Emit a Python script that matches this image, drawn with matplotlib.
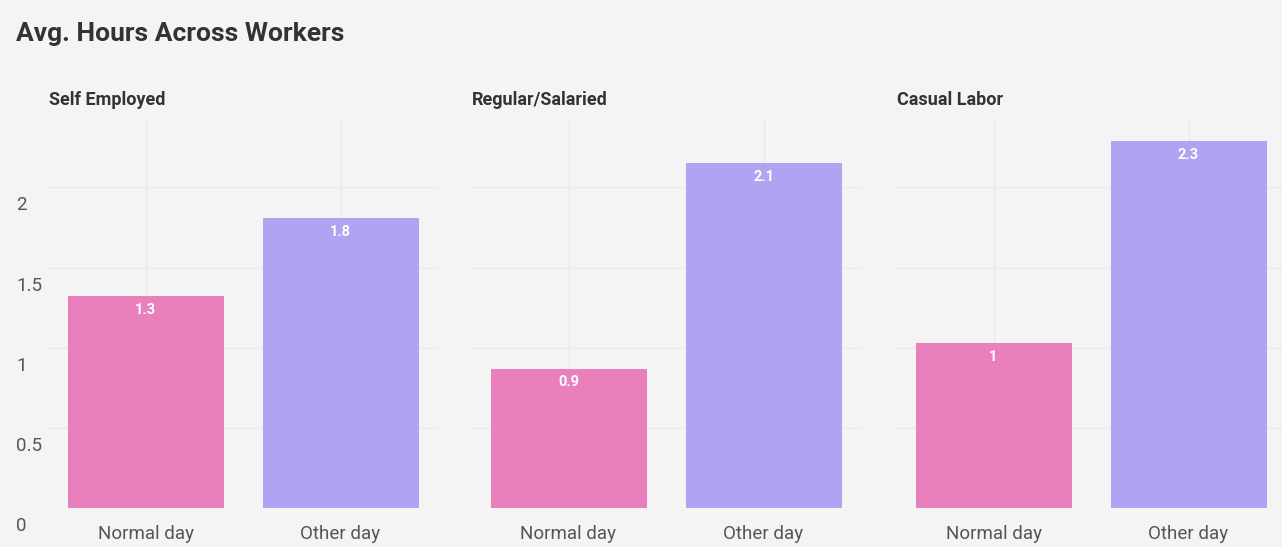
import matplotlib
matplotlib.use("Agg")
import matplotlib.pyplot as plt
import matplotlib.transforms as mtransforms

# ---- data ----
panels = ["Self Employed", "Regular/Salaried", "Casual Labor"]
categories = ["Normal day", "Other day"]
normal_day = [1.32, 0.87, 1.03]
other_day = [1.81, 2.15, 2.29]
value_labels_normal = ["1.3", "0.9", "1"]
value_labels_other = ["1.8", "2.1", "2.3"]
yticks = [0, 0.5, 1, 1.5, 2]
ytick_labels = ["0", "0.5", "1", "1.5", "2"]

# ---- style ----
BG = "#F4F4F4"
PINK = "#E97FBB"
PURPLE = "#B1A3F2"
GRID = "#EAEAEA"
plt.rcParams["font.family"] = ["Roboto", "DejaVu Sans"]

W, H = 1282, 547
fig = plt.figure(figsize=(W / 100, H / 100), dpi=100, facecolor=BG)

panel_left = [48, 471, 896]
panel_w = 390
y0_px, ytop_px = 508, 120

fig.text(16 / W, 1 - 34 / H, "Avg. Hours Across Workers", fontsize=19,
         fontweight="bold", color="#333333", va="center", ha="left")

for i, name in enumerate(panels):
    ax = fig.add_axes([panel_left[i] / W, 1 - y0_px / H, panel_w / W,
                       (y0_px - ytop_px) / H])
    ax.set_facecolor(BG)
    vals = [normal_day[i], other_day[i]]
    labs = [value_labels_normal[i], value_labels_other[i]]
    cols = [PINK, PURPLE]
    ax.bar(range(len(categories)), vals, width=0.8, color=cols, zorder=2)
    for j, (v, lab) in enumerate(zip(vals, labs)):
        ax.annotate(lab, (j, v), xytext=(0, -10), textcoords="offset points",
                    ha="center", va="center", fontsize=10.5, fontweight="bold",
                    color="white", zorder=3,
                    bbox=dict(boxstyle="round,pad=0.15", fc=cols[j],
                              ec="none", alpha=0.9))
    ax.set_xlim(-0.5, 1.5)
    ax.set_ylim(0, 2.42)
    ax.set_yticks(yticks)
    ax.set_xticks(range(len(categories)))
    ax.set_xticklabels(categories, fontsize=13.5, color="#555555")
    ax.tick_params(axis="x", length=0, pad=12)
    if i == 0:
        ax.set_yticklabels(ytick_labels, fontsize=13.5, color="#555555")
        ax.tick_params(axis="y", length=0, pad=0)
        offs = mtransforms.ScaledTranslation(-32 / 100, -16 / 100,
                                             fig.dpi_scale_trans)
        for t in ax.get_yticklabels():
            t.set_horizontalalignment("left")
            t.set_transform(t.get_transform() + offs)
    else:
        ax.tick_params(axis="y", length=0, labelleft=False)
    ax.grid(True, color=GRID, linewidth=1, zorder=0)
    for s in ax.spines.values():
        s.set_visible(False)
    fig.text(panel_left[i] / W + 1 / W, 1 - 100 / H, name, fontsize=13,
             fontweight="bold", color="#333333", va="center", ha="left")

fig.savefig("out.png", dpi=100, facecolor=BG)
